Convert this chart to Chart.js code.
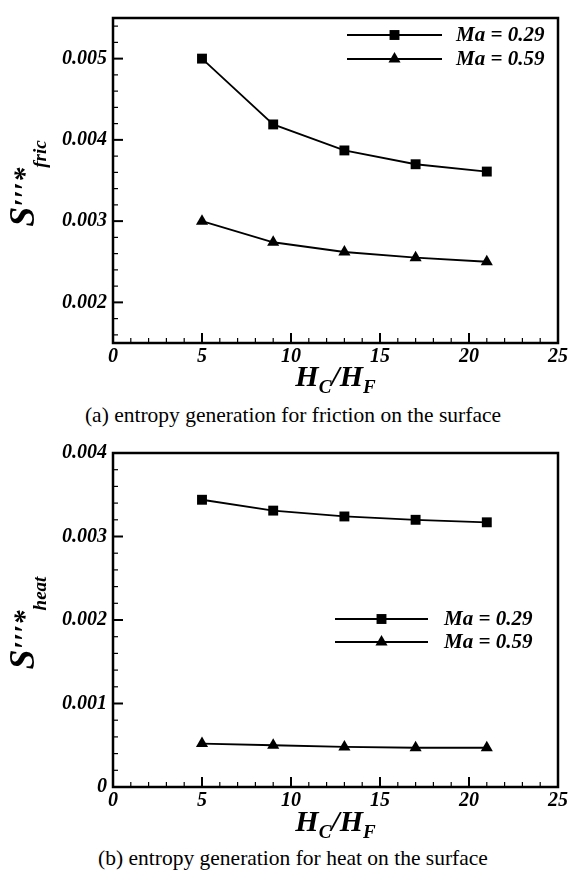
<!DOCTYPE html>
<html>
<head>
<meta charset="utf-8">
<script src="https://cdn.jsdelivr.net/npm/chart.js@4/dist/chart.umd.min.js"></script>
<style>
  body { margin: 0; background: #fff; width: 570px; height: 877px; position: relative; overflow: hidden; }
  .box { position: absolute; left: 0; width: 570px; }
  .cap { position: absolute; left: 0; width: 586px; text-align: center; color: #000;
         font-family: "Liberation Serif", "Times New Roman", serif; font-size: 21.5px; }
</style>
</head>
<body>
<div class="box" style="top:0;height:400px"><canvas id="fricChart"></canvas></div>
<div class="cap" style="top:403px">(a) entropy generation for friction on the surface</div>
<div class="box" style="top:430px;height:410px"><canvas id="heatChart"></canvas></div>
<div class="cap" style="top:846px">(b) entropy generation for heat on the surface</div>
<script>
// values
const hcHf = [5, 9, 13, 17, 21];
const seriesLabels = ["Ma = 0.29", "Ma = 0.59"];
const fric029 = [0.0050, 0.00419, 0.00387, 0.00370, 0.00361];
const fric059 = [0.0030, 0.00274, 0.00262, 0.00255, 0.00250];
const heat029 = [0.00344, 0.00331, 0.00324, 0.00320, 0.00317];
const heat059 = [0.00052, 0.00050, 0.00048, 0.00047, 0.00047];

const xTicks = [0, 5, 10, 15, 20, 25];
const xTickLabels = ["0", "5", "10", "15", "20", "25"];
const fricTicks = [0.002, 0.003, 0.004, 0.005];
const fricTickLabels = ["0.002", "0.003", "0.004", "0.005"];
const heatTicks = [0, 0.001, 0.002, 0.003, 0.004];
const heatTickLabels = ["0", "0.001", "0.002", "0.003", "0.004"];

const SERIF = '"Liberation Serif", "Times New Roman", serif';
const bi = (s) => "italic bold " + s + "px " + SERIF;

function marker(ctx, style, x, y, r) {
  ctx.beginPath();
  if (style === "rect") {
    const h = r * Math.SQRT1_2;
    ctx.rect(x - h, y - h, 2 * h, 2 * h);
  } else {
    ctx.moveTo(x, y - r);
    ctx.lineTo(x + r * 0.866, y + r * 0.5);
    ctx.lineTo(x - r * 0.866, y + r * 0.5);
    ctx.closePath();
  }
  ctx.fill();
}

// text pieces [text, size, drop] drawn left to right from x on baseline y
function drawParts(ctx, parts, x, y) {
  for (const p of parts) {
    ctx.font = bi(p[1]);
    ctx.fillText(p[0], x, y + p[2]);
    x += ctx.measureText(p[0]).width;
  }
}
function partsWidth(ctx, parts) {
  let w = 0;
  for (const p of parts) {
    ctx.font = bi(p[1]);
    w += ctx.measureText(p[0]).width;
  }
  return w;
}

const framePlugin = {
  id: "frame",
  afterDraw(chart, args, o) {
    const ctx = chart.ctx, a = chart.chartArea;
    const xs = chart.scales.x, ys = chart.scales.y;
    ctx.save();
    ctx.strokeStyle = "#000";
    ctx.fillStyle = "#000";
    ctx.lineWidth = 2.5;
    ctx.strokeRect(a.left, a.top, a.right - a.left, a.bottom - a.top);

    // inward ticks
    const isMajor = (v, step) => Math.abs(v / step - Math.round(v / step)) < 1e-6;
    let n = Math.round((xs.max - xs.min) / o.xMinor);
    for (let i = 1; i < n; i++) {
      const v = xs.min + i * o.xMinor;
      const px = xs.getPixelForValue(v);
      const mj = isMajor(v, o.xMajor);
      ctx.lineWidth = mj ? 2 : 1.2;
      ctx.beginPath();
      ctx.moveTo(px, a.bottom);
      ctx.lineTo(px, a.bottom - (mj ? 10 : 5));
      ctx.stroke();
    }
    const y0 = Math.ceil(ys.min / o.yMinor - 1e-6);
    const y1 = Math.floor(ys.max / o.yMinor + 1e-6);
    for (let k = y0; k <= y1; k++) {
      const v = k * o.yMinor;
      const py = ys.getPixelForValue(v);
      if (py < a.top + 1 || py > a.bottom - 1) continue;
      const mj = isMajor(v, o.yMajor);
      ctx.lineWidth = mj ? 2 : 1.2;
      ctx.beginPath();
      ctx.moveTo(a.left, py);
      ctx.lineTo(a.left + (mj ? 10 : 5), py);
      ctx.stroke();
    }

    // x title  H_C/H_F
    ctx.textAlign = "left";
    ctx.textBaseline = "alphabetic";
    const xt = [["H", 30, 0], ["C", 19, 7], ["/H", 30, 0], ["F", 19, 7]];
    drawParts(ctx, xt, (a.left + a.right) / 2 - partsWidth(ctx, xt) / 2, o.xTitleY);

    // y title  S'''*_sub, rotated
    const yt = [["S", 36, 0], ["\u2032\u2032\u2032*", 29, 0], [o.ySub, 19, 12]];
    ctx.save();
    ctx.translate(34, (a.top + a.bottom) / 2 + 3);
    ctx.rotate(-Math.PI / 2);
    drawParts(ctx, yt, -partsWidth(ctx, yt) / 2, 0);
    ctx.restore();

    // legend: line with marker, then label
    const L = o.legend;
    chart.data.datasets.forEach((ds, i) => {
      const y = L.y + i * L.dy;
      ctx.lineWidth = 2;
      ctx.beginPath();
      ctx.moveTo(L.x0, y);
      ctx.lineTo(L.x1, y);
      ctx.stroke();
      marker(ctx, ds.pointStyle, (L.x0 + L.x1) / 2, y, ds.pointRadius);
      ctx.font = bi(21);
      ctx.textBaseline = "middle";
      ctx.fillText(ds.label, L.tx, y + 1);
    });
    ctx.restore();
  }
};

function makeChart(id, s1, s2, yMin, yMax, yTicks, yLabels, pad, xHeight, frame) {
  const line = (label, vals, style) => ({
    label: label,
    data: hcHf.map((x, i) => ({ x: x, y: vals[i] })),
    borderColor: "#000",
    backgroundColor: "#000",
    borderWidth: 1.8,
    pointStyle: style,
    pointRadius: 7,
    pointHoverRadius: 7,
    pointBorderWidth: 0,
    tension: 0,
  });
  const tickFont = { family: SERIF, size: 20, style: "italic", weight: "bold" };
  return new Chart(document.getElementById(id), {
    type: "line",
    data: {
      datasets: [
        line(seriesLabels[0], s1, "rect"),
        line(seriesLabels[1], s2, "triangle"),
      ],
    },
    options: {
      responsive: true,
      maintainAspectRatio: false,
      animation: false,
      events: [],
      layout: { padding: pad },
      plugins: { legend: { display: false }, tooltip: { enabled: false }, frame: frame },
      scales: {
        x: {
          type: "linear",
          min: 0,
          max: 25,
          afterBuildTicks: (s) => { s.ticks = xTicks.map((v) => ({ value: v })); },
          afterFit: (s) => { s.height = xHeight; },
          ticks: {
            color: "#000",
            font: tickFont,
            padding: 2,
            maxRotation: 0,
            callback: (v, i) => xTickLabels[i],
          },
          grid: { display: false, drawTicks: false },
          border: { display: false },
        },
        y: {
          type: "linear",
          min: yMin,
          max: yMax,
          afterBuildTicks: (s) => { s.ticks = yTicks.map((v) => ({ value: v })); },
          afterFit: (s) => { s.width = 113; },
          ticks: {
            color: "#000",
            font: tickFont,
            padding: 6,
            callback: (v, i) => yLabels[i],
          },
          grid: { display: false, drawTicks: false },
          border: { display: false },
        },
      },
    },
    plugins: [framePlugin],
  });
}

makeChart("fricChart", fric029, fric059, 0.0015, 0.0055, fricTicks, fricTickLabels,
  { top: 7, right: 10, bottom: 0, left: 0 }, 57,
  { xMinor: 1, xMajor: 5, yMinor: 0.0002, yMajor: 0.001, xTitleY: 386, ySub: "fric",
    legend: { x0: 347, x1: 442, y: 35, dy: 24, tx: 456 } });

makeChart("heatChart", heat029, heat059, 0, 0.004, heatTicks, heatTickLabels,
  { top: 23, right: 11, bottom: 0, left: 0 }, 53,
  { xMinor: 1, xMajor: 5, yMinor: 0.0002, yMajor: 0.001, xTitleY: 401, ySub: "heat",
    legend: { x0: 335, x1: 428, y: 189, dy: 23, tx: 444 } });
</script>
</body>
</html>
